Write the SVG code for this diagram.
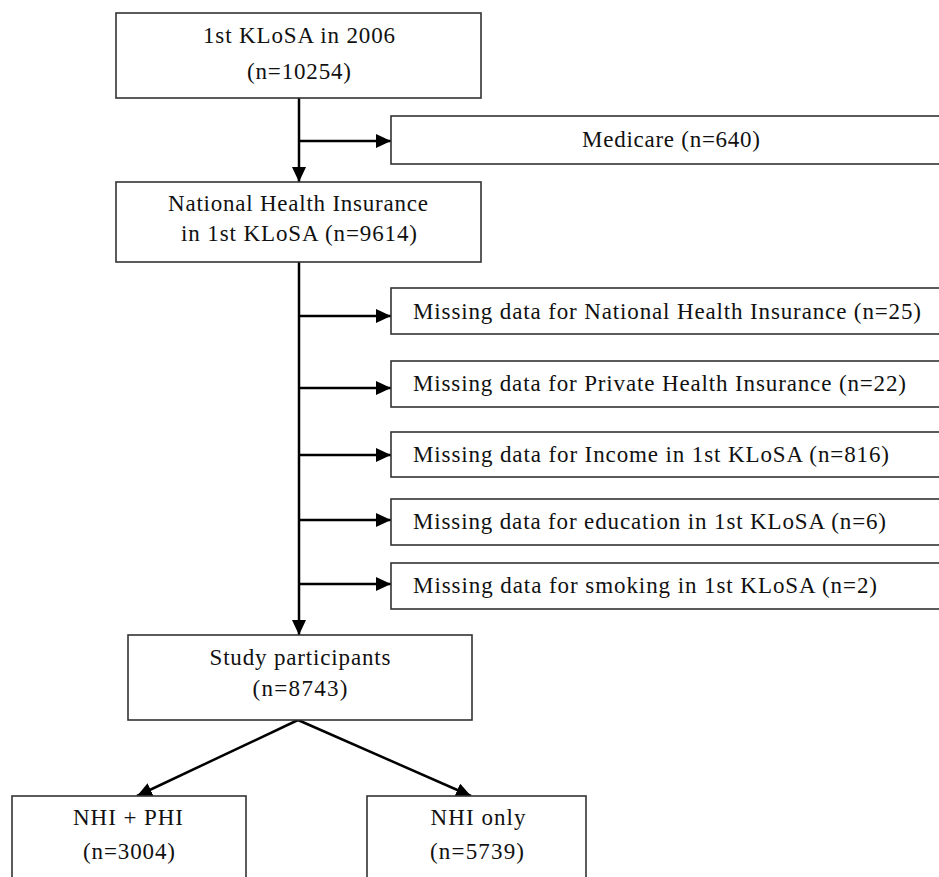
<svg xmlns="http://www.w3.org/2000/svg" width="939" height="877" viewBox="0 0 939 877">
<style>
.box{fill:#fff;stroke:#333;stroke-width:1.6}
.t{font-family:"Liberation Serif","Times New Roman",serif;font-size:23px;fill:#111}
.c{text-anchor:middle}
.ln{fill:none;stroke:#000;stroke-width:2.5}
</style>
<defs>
<marker id="ah" markerUnits="userSpaceOnUse" markerWidth="15" markerHeight="14" viewBox="0 0 15 14" refX="15" refY="7" orient="auto">
<path d="M0,0 L15,7 L0,14 z" fill="#000"/>
</marker>
</defs>
<rect width="939" height="877" fill="#fff"/>
<g id="connectors">
<line class="ln" x1="299" y1="98" x2="299" y2="182" marker-end="url(#ah)"/>
<line class="ln" x1="299" y1="141" x2="391" y2="141" marker-end="url(#ah)"/>
<line class="ln" x1="299" y1="262" x2="299" y2="635" marker-end="url(#ah)"/>
<line class="ln" x1="299" y1="316" x2="391" y2="316" marker-end="url(#ah)"/>
<line class="ln" x1="299" y1="388" x2="391" y2="388" marker-end="url(#ah)"/>
<line class="ln" x1="299" y1="455" x2="391" y2="455" marker-end="url(#ah)"/>
<line class="ln" x1="299" y1="520" x2="391" y2="520" marker-end="url(#ah)"/>
<line class="ln" x1="299" y1="584" x2="391" y2="584" marker-end="url(#ah)"/>
<line class="ln" x1="298" y1="720" x2="137" y2="796" marker-end="url(#ah)"/>
<line class="ln" x1="298" y1="720" x2="471" y2="796" marker-end="url(#ah)"/>
</g>
<g id="n1">
<rect class="box" x="116" y="13" width="365" height="85"/>
<text class="t c" x="299" y="43" textLength="192" lengthAdjust="spacing">1st KLoSA in 2006</text>
<text class="t c" x="299" y="79" textLength="104" lengthAdjust="spacing">(n=10254)</text>
</g>
<g id="medicare">
<rect class="box" x="391" y="116" width="560" height="48"/>
<text class="t" x="582" y="147" textLength="178" lengthAdjust="spacing">Medicare (n=640)</text>
</g>
<g id="n2">
<rect class="box" x="116" y="182" width="365" height="80"/>
<text class="t c" x="298" y="211" textLength="260" lengthAdjust="spacing">National Health Insurance</text>
<text class="t c" x="299" y="241" textLength="236" lengthAdjust="spacing">in 1st KLoSA (n=9614)</text>
</g>
<g id="m1">
<rect class="box" x="391" y="288" width="560" height="46"/>
<text class="t" x="413" y="319" textLength="508" lengthAdjust="spacing">Missing data for National Health Insurance (n=25)</text>
</g>
<g id="m2">
<rect class="box" x="391" y="361" width="560" height="46"/>
<text class="t" x="413" y="391" textLength="493" lengthAdjust="spacing">Missing data for Private Health Insurance (n=22)</text>
</g>
<g id="m3">
<rect class="box" x="391" y="432" width="560" height="45"/>
<text class="t" x="413" y="462" textLength="476" lengthAdjust="spacing">Missing data for Income in 1st KLoSA (n=816)</text>
</g>
<g id="m4">
<rect class="box" x="391" y="499" width="560" height="46"/>
<text class="t" x="413" y="529" textLength="473" lengthAdjust="spacing">Missing data for education in 1st KLoSA (n=6)</text>
</g>
<g id="m5">
<rect class="box" x="391" y="563" width="560" height="46"/>
<text class="t" x="413" y="593" textLength="464" lengthAdjust="spacing">Missing data for smoking in 1st KLoSA (n=2)</text>
</g>
<g id="study">
<rect class="box" x="128" y="635" width="344" height="85"/>
<text class="t c" x="300" y="665" textLength="181" lengthAdjust="spacing">Study participants</text>
<text class="t c" x="300" y="696" textLength="95" lengthAdjust="spacing">(n=8743)</text>
</g>
<g id="nhiphi">
<rect class="box" x="12" y="796" width="234" height="100"/>
<text class="t c" x="128" y="825" textLength="110" lengthAdjust="spacing">NHI + PHI</text>
<text class="t c" x="129" y="859" textLength="92" lengthAdjust="spacing">(n=3004)</text>
</g>
<g id="nhionly">
<rect class="box" x="367" y="796" width="219" height="100"/>
<text class="t c" x="478" y="825" textLength="95" lengthAdjust="spacing">NHI only</text>
<text class="t c" x="477" y="859" textLength="94" lengthAdjust="spacing">(n=5739)</text>
</g>
</svg>
